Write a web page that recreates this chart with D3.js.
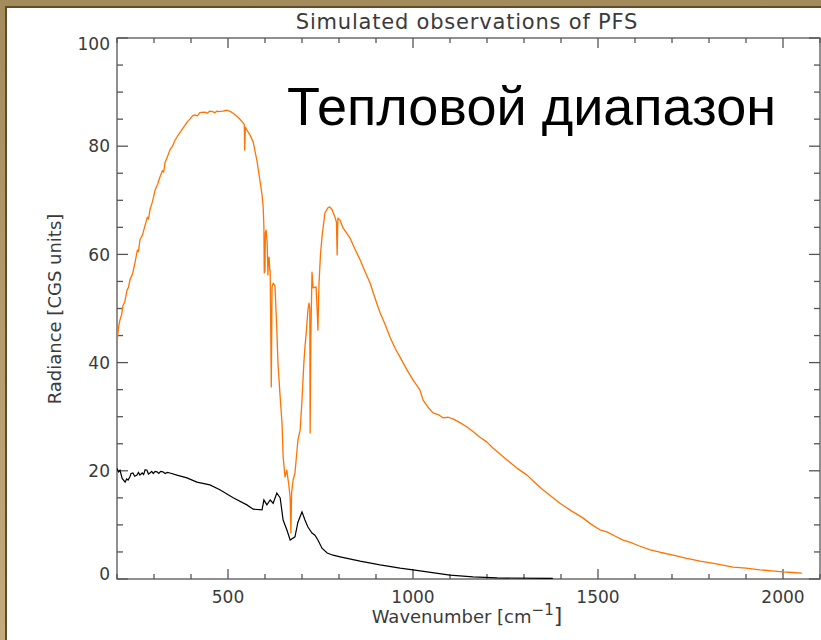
<!DOCTYPE html>
<html><head><meta charset="utf-8">
<script src="https://cdn.jsdelivr.net/npm/d3@7"></script>
<style>body{margin:0;background:#fff;overflow:hidden} svg{display:block}</style>
</head><body>
<svg id="c" width="821" height="640"></svg>
<script>
// ---- data ----
const orangeWn = [200,204,208,212,216,221,227,231,235,242,249,255,258,262,269,276,282,285,289,296,303,310,316,323,326,330,337,343,350,356,363,370,377,383,390,397,404,410,417,424,437,444,451,458,465,470,475,486,493,500,507,514,528,541,544,545,547,551,560,568,578,586,592,595,597,598,600,601,603,606,608,609,611,613,614,617,619,622,627,632,635,638,641,646,649,654,659,665,668,670,672,676,681,689,695,700,705,708,712,716,719,721,722,724,727,730,738,741,743,746,750,754,757,762,770,775,781,789,793,795,797,803,811,830,843,857,870,884,897,911,925,938,952,965,984,1000,1019,1027,1040,1054,1068,1081,1095,1108,1127,1146,1163,1181,1200,1216,1235,1254,1281,1308,1330,1351,1375,1397,1428,1459,1482,1505,1524,1547,1568,1586,1612,1641,1670,1703,1740,1776,1820,1865,1900,1938,1970,2000,2025,2051];
const orangeVal = [43.6,46.5,47.9,48.7,50.5,51.2,53.4,53.9,55.3,56.4,58.6,60.8,60.5,62.7,63.6,65.4,66.9,66.5,68.2,69.8,71.9,73.0,74.3,75.5,75.2,77.0,78.2,79.3,80.0,81.0,81.8,82.5,83.2,83.8,84.5,85.0,85.6,85.8,85.6,86.2,86.3,86.1,86.5,86.4,86.2,86.5,86.4,86.5,86.6,86.6,86.4,86.1,85.3,84.3,84.0,79.3,83.5,83.0,82.0,80.8,77.4,73.8,71.0,68.8,65.1,56.6,57.0,64.0,64.5,62.0,56.2,59.0,59.5,57.0,57.0,35.5,54.0,54.7,54.2,46.0,39.9,36.8,33.6,28.8,22.6,18.9,20.1,17.0,15.0,8.5,16.0,18.3,19.6,25.7,27.5,33.1,39.9,42.9,46.0,49.7,51.0,50.0,27.0,45.0,56.7,53.8,54.0,49.7,46.0,54.7,60.0,63.2,64.9,67.7,68.6,68.8,68.3,66.9,66.0,59.9,66.7,66.3,64.9,63.0,61.0,59.0,56.9,54.7,52.0,49.2,47.0,44.7,42.6,41.0,38.6,36.8,34.9,33.1,31.8,30.7,30.4,29.8,29.9,29.6,28.9,28.1,27.2,26.2,25.3,24.2,23.1,22.0,20.5,19.2,17.8,16.5,15.2,14.0,12.6,11.3,10.1,9.1,8.7,7.9,7.2,6.8,6.1,5.4,4.9,4.4,3.8,3.3,2.8,2.2,2.0,1.7,1.5,1.3,1.2,1.1];
const blackWn = [200,204,208,214,222,226,230,235,238,243,248,254,258,262,268,272,276,281,285,289,294,298,303,308,313,318,324,330,336,343,362,389,416,451,478,514,551,568,592,597,605,614,622,632,641,649,659,668,681,689,700,708,716,727,735,743,754,768,784,803,857,911,965,1000,1100,1162,1227,1378];
const blackVal = [20.5,19.8,20.1,18.6,17.9,18.5,18.3,18.9,19.5,19.6,19.0,19.2,19.7,19.2,19.6,19.3,20.2,20.1,19.4,19.6,19.9,19.5,19.9,19.8,19.5,19.9,19.8,19.5,19.7,19.6,19.2,18.7,17.9,17.4,16.5,15.0,13.7,12.9,12.8,14.6,13.7,14.6,14.0,15.9,15.0,10.9,9.1,7.2,7.8,10.5,12.4,10.9,9.6,8.5,8.1,7.2,5.7,4.8,4.4,4.1,3.3,2.6,2.0,1.7,0.7,0.4,0.2,0.1];
const xMajorTicks = [500,1000,1500,2000];
const xMajorLabels = ["500","1000","1500","2000"];
const yMajorTicks = [0,20,40,60,80,100];
const yMajorLabels = ["0","20","40","60","80","100"];
const titleText = "Simulated observations of PFS";
const bigText = "Тепловой диапазон";
const yLabel = "Radiance [CGS units]";

// ---- drawing ----
const svg = d3.select("#c");
const W = 821, H = 640;
const defs = svg.append("defs");
const g1 = defs.append("linearGradient").attr("id","tan").attr("x1",0).attr("y1",0).attr("x2",0).attr("y2",1);
g1.append("stop").attr("offset","0%").attr("stop-color","#a48b5b");
g1.append("stop").attr("offset","100%").attr("stop-color","#c3ab7b");
svg.append("rect").attr("width",W).attr("height",H).attr("fill","url(#tan)");
svg.append("rect").attr("x",5).attr("y",6).attr("width",W).attr("height",H).attr("fill","#5e4c2c");
svg.append("rect").attr("x",7).attr("y",8).attr("width",W).attr("height",H).attr("fill","#ffffff");

const x = d3.scaleLinear().domain([200,2100]).range([117,820]);
const y = d3.scaleLinear().domain([0,100]).range([579,38]);
const axisColor = "#555";

defs.append("clipPath").attr("id","plot").append("rect")
  .attr("x",117).attr("y",38).attr("width",703).attr("height",541);

// frame
svg.append("rect").attr("x",117).attr("y",38).attr("width",703).attr("height",541)
  .attr("fill","none").attr("stroke",axisColor).attr("stroke-width",1.3);

const xMinor = d3.range(200,2101,100);
const yMinor = d3.range(0,101,5);
const tk = svg.append("g").attr("stroke",axisColor).attr("stroke-width",1.3);
xMinor.forEach(v=>{
  const len = xMajorTicks.includes(v) ? 10 : 5;
  tk.append("line").attr("x1",x(v)).attr("x2",x(v)).attr("y1",579).attr("y2",579-len);
  tk.append("line").attr("x1",x(v)).attr("x2",x(v)).attr("y1",38).attr("y2",38+len);
});
yMinor.forEach(v=>{
  const len = yMajorTicks.includes(v) ? 11 : 6;
  tk.append("line").attr("y1",y(v)).attr("y2",y(v)).attr("x1",117).attr("x2",117+len);
  tk.append("line").attr("y1",y(v)).attr("y2",y(v)).attr("x1",820).attr("x2",820-len);
});

const lblFont = "'DejaVu Sans', sans-serif";
svg.append("g").selectAll("text").data(xMajorTicks).join("text")
  .attr("x",d=>x(d)).attr("y",603).attr("text-anchor","middle")
  .attr("font-family",lblFont).attr("font-size",17).attr("fill","#3a3a3a")
  .text((d,i)=>xMajorLabels[i]);
svg.append("g").selectAll("text").data(yMajorTicks).join("text")
  .attr("x",110).attr("y",d=>Math.max(44,Math.min(574,y(d)))).attr("dy","0.36em")
  .attr("text-anchor","end")
  .attr("font-family",lblFont).attr("font-size",17).attr("fill","#3a3a3a")
  .text((d,i)=>yMajorLabels[i]);

// title
svg.append("text").attr("x",467).attr("y",29).attr("text-anchor","middle")
  .attr("font-family",lblFont).attr("font-size",21).attr("letter-spacing","0.8px").attr("fill","#3a3a3a")
  .text(titleText);

// y label
svg.append("text").attr("transform","translate(61,309) rotate(-90)").attr("text-anchor","middle")
  .attr("font-family",lblFont).attr("font-size",18).attr("fill","#3a3a3a")
  .text(yLabel);

// x label with superscript
const xl = svg.append("text").attr("x",467).attr("y",623).attr("text-anchor","middle")
  .attr("font-family",lblFont).attr("font-size",18).attr("fill","#3a3a3a");
xl.append("tspan").text("Wavenumber [cm");
xl.append("tspan").attr("dy",-8).attr("font-size",15).text("−1");
xl.append("tspan").attr("dy",8).attr("font-size",22).text("]");

// curves
const line = d3.line().x(d=>x(d[0])).y(d=>y(d[1]));
const pg = svg.append("g").attr("clip-path","url(#plot)");
pg.append("path").datum(blackWn.map((w,i)=>[w,blackVal[i]]))
  .attr("d",line).attr("fill","none").attr("stroke","#000").attr("stroke-width",1.2);
pg.append("path").datum(orangeWn.map((w,i)=>[w,orangeVal[i]]))
  .attr("d",line).attr("fill","none").attr("stroke","#ff7300").attr("stroke-width",1.3)
  .attr("stroke-linejoin","round");

// big annotation
svg.append("text").attr("x",287).attr("y",125)
  .attr("font-family","'Liberation Sans', Arial, sans-serif").attr("font-size",54).attr("fill","#000")
  .text(bigText);
</script>
</body></html>
